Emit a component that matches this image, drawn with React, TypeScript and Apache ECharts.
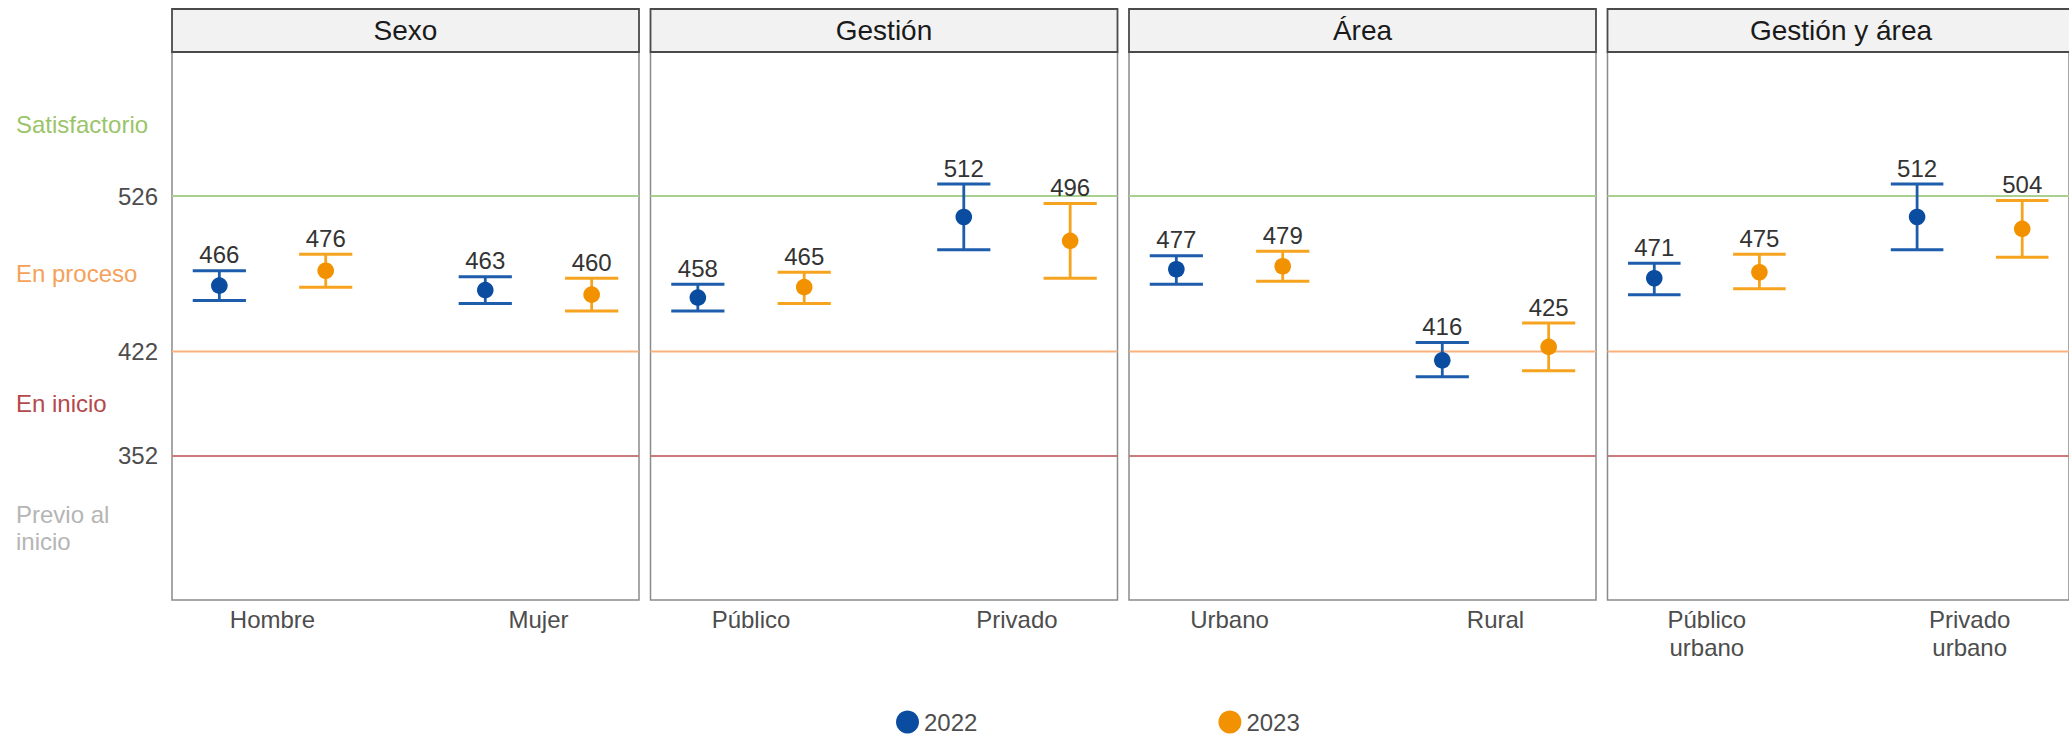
import React, { useEffect, useRef } from "react";
import * as echarts from "echarts";

// ---- data ----
const panelTitles = ["Sexo", "Gestión", "Área", "Gestión y área"];
const categories = [
  ["Hombre", "Mujer"],
  ["Público", "Privado"],
  ["Urbano", "Rural"],
  ["Público\nurbano", "Privado\nurbano"],
];
const years = ["2022", "2023"];
const mean2022 = [[466, 463], [458, 512], [477, 416], [471, 512]];
const low2022 = [[456, 454], [449, 490], [467, 405], [460, 490]];
const high2022 = [[476, 472], [467, 534], [486, 428], [481, 534]];
const mean2023 = [[476, 460], [465, 496], [479, 425], [475, 504]];
const low2023 = [[465, 449], [454, 471], [469, 409], [464, 485]];
const high2023 = [[487, 471], [475, 521], [489, 441], [487, 523]];
const levelCuts = [352, 422, 526];
const levelNames = ["Previo al\ninicio", "En inicio", "En proceso", "Satisfactorio"];

// ---- style / layout ----
const FONT = "'Liberation Sans', Arial, Helvetica, sans-serif";
const pointColors = ["#0A4DA0", "#F39200"];
const whiskerColors = ["#1D5DAC", "#F6A41F"];
const cutColors = ["#C97B7E", "#F8B27F", "#A9D08E"];
const levelTextColors = ["#B5B5B5", "#B4494C", "#F6A15A", "#9BC46A"];
const Y_MIN = 255.6;
const Y_MAX = 622.4;
const X_MIN = 0.622;
const X_MAX = 2.378;
const DODGE = 0.2;
const PANEL_LEFT0 = 172;
const PANEL_STEP = 478.5;
const PANEL_W = 467;
const PANEL_TOP = 52;
const PANEL_H = 548;
const STRIP_TOP = 9;

export default function App() {
  const ref = useRef<HTMLDivElement>(null);

  useEffect(() => {
    if (!ref.current) return;
    const chart = echarts.init(ref.current, undefined, { renderer: "svg" });

    const bounds = [Y_MIN, ...levelCuts, Y_MAX];
    const bandMids = levelNames.map((_, i) => (bounds[i] + bounds[i + 1]) / 2);

    const grids: any[] = [];
    const xAxes: any[] = [];
    const yAxes: any[] = [];
    const series: any[] = [];
    const graphics: any[] = [];

    panelTitles.forEach((title, p) => {
      const left = PANEL_LEFT0 + p * PANEL_STEP;
      grids.push({
        left,
        top: PANEL_TOP,
        width: PANEL_W,
        height: PANEL_H,
        show: true,
        borderColor: "#8A8A8A",
        borderWidth: 1.5,
        backgroundColor: "transparent",
        containLabel: false,
      });
      xAxes.push({
        type: "value",
        gridIndex: p,
        min: X_MIN,
        max: X_MAX,
        axisLine: { show: false },
        axisTick: { show: false },
        splitLine: { show: false },
        axisLabel: {
          customValues: [1, 2],
          formatter: (v: number) => categories[p][Math.round(v) - 1] ?? "",
          fontSize: 24,
          lineHeight: 28,
          color: "#4D4D4D",
          fontFamily: FONT,
          margin: 5,
        },
      });
      yAxes.push({
        type: "value",
        gridIndex: p,
        min: Y_MIN,
        max: Y_MAX,
        axisLine: { show: false },
        axisTick: { show: false },
        splitLine: { show: false },
        axisLabel:
          p === 0
            ? {
                show: true,
                customValues: levelCuts,
                formatter: (v: number) => String(Math.round(v)),
                fontSize: 24,
                color: "#4D4D4D",
                fontFamily: FONT,
                margin: 14,
              }
            : { show: false },
      });

      // level cut lines
      levelCuts.forEach((c, i) => {
        series.push({
          type: "line",
          name: "cut" + c,
          xAxisIndex: p,
          yAxisIndex: p,
          data: [
            [X_MIN, c],
            [X_MAX, c],
          ],
          showSymbol: false,
          symbol: "none",
          silent: true,
          lineStyle: { color: cutColors[i], width: 2 },
          z: 1,
        });
      });

      // error bars + points
      const means = [mean2022, mean2023];
      const lows = [low2022, low2023];
      const highs = [high2022, high2023];
      years.forEach((yr, k) => {
        const data = categories[p].map((_, c) => [
          c + 1 + (k === 0 ? -DODGE : DODGE),
          lows[k][p][c],
          highs[k][p][c],
          means[k][p][c],
        ]);
        series.push({
          type: "custom",
          name: yr,
          xAxisIndex: p,
          yAxisIndex: p,
          itemStyle: { color: pointColors[k] },
          data,
          z: 3,
          renderItem: (params: any, api: any) => {
            const x = api.value(0);
            const lo = api.value(1);
            const hi = api.value(2);
            const m = api.value(3);
            const pTop = api.coord([x, hi]);
            const pBot = api.coord([x, lo]);
            const pM = api.coord([x, m]);
            const hw = api.size([0.1, 0])[0];
            const wc = whiskerColors[k];
            return {
              type: "group",
              children: [
                {
                  type: "line",
                  shape: { x1: pTop[0], y1: pTop[1], x2: pBot[0], y2: pBot[1] },
                  style: { stroke: wc, lineWidth: 2.8 },
                },
                {
                  type: "line",
                  shape: { x1: pTop[0] - hw, y1: pTop[1], x2: pTop[0] + hw, y2: pTop[1] },
                  style: { stroke: wc, lineWidth: 3 },
                },
                {
                  type: "line",
                  shape: { x1: pBot[0] - hw, y1: pBot[1], x2: pBot[0] + hw, y2: pBot[1] },
                  style: { stroke: wc, lineWidth: 3 },
                },
                {
                  type: "circle",
                  shape: { cx: pM[0], cy: pM[1], r: 8.3 },
                  style: { fill: api.visual("color") },
                },
                {
                  type: "text",
                  x: pTop[0],
                  y: pTop[1] - 4,
                  style: {
                    text: String(m),
                    align: "center",
                    verticalAlign: "bottom",
                    fontSize: 24,
                    fontFamily: FONT,
                    fill: "#333333",
                  },
                },
              ],
            };
          },
        });
      });

      // facet strip
      graphics.push({
        type: "rect",
        shape: { x: left, y: STRIP_TOP, width: PANEL_W, height: PANEL_TOP - STRIP_TOP },
        style: { fill: "#F2F2F2", stroke: "#4A4A4A", lineWidth: 1.8 },
        z: 10,
      });
      graphics.push({
        type: "text",
        x: left + PANEL_W / 2,
        y: (STRIP_TOP + PANEL_TOP) / 2,
        style: {
          text: title,
          align: "center",
          verticalAlign: "middle",
          fontSize: 28,
          fontFamily: FONT,
          fill: "#1A1A1A",
        },
        z: 11,
      });
    });

    // level names axis on first panel
    const rich: any = {};
    levelNames.forEach((_, i) => {
      rich["c" + i] = {
        color: levelTextColors[i],
        fontSize: 24,
        lineHeight: 27,
        fontFamily: FONT,
        align: "left",
      };
    });
    yAxes.push({
      type: "value",
      gridIndex: 0,
      position: "left",
      min: Y_MIN,
      max: Y_MAX,
      axisLine: { show: false },
      axisTick: { show: false },
      splitLine: { show: false },
      axisLabel: {
        show: true,
        customValues: bandMids,
        align: "left",
        margin: PANEL_LEFT0 - 16,
        formatter: (v: number) => {
          let best = 0;
          bandMids.forEach((m, i) => {
            if (Math.abs(m - v) < Math.abs(bandMids[best] - v)) best = i;
          });
          return levelNames[best]
            .split("\n")
            .map((l) => `{c${best}|${l}}`)
            .join("\n");
        },
        rich,
      },
    });

    chart.setOption({
      animation: false,
      backgroundColor: "#FFFFFF",
      textStyle: { fontFamily: FONT },
      grid: grids,
      xAxis: xAxes,
      yAxis: yAxes,
      legend: {
        data: years,
        icon: "circle",
        itemWidth: 23,
        itemHeight: 23,
        itemGap: 241,
        left: 896,
        top: 710,
        padding: 0,
        textStyle: { fontSize: 24, color: "#4D4D4D", fontFamily: FONT },
        selectedMode: false,
      },
      graphic: graphics,
      series,
    });

    return () => chart.dispose();
  }, []);

  return (
    <div
      ref={ref}
      style={{ position: "fixed", left: 0, top: 0, width: 2069, height: 737 }}
    />
  );
}
